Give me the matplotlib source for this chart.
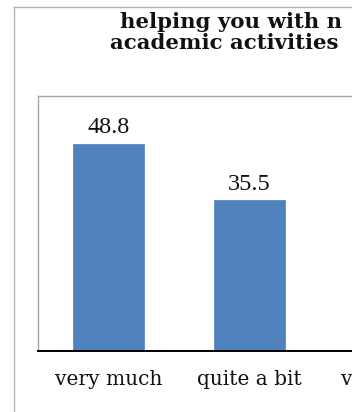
import matplotlib.pyplot as plt
from matplotlib.lines import Line2D

# survey answers and the share (%) of respondents for each
categories = ["very much", "quite a bit", "very little"]
values = [48.8, 35.5]
title_lines = ["helping you with n", "academic activities"]

W, H, DPI = 352, 412, 100
BAR_COLOR = "#4F81BD"
FRAME_GREY = "#B4B4B4"


def px(x, y):
    # pixel position (from top-left) to figure fraction
    return x / W, 1 - y / H


fig = plt.figure(figsize=(W / DPI, H / DPI), dpi=DPI)
fig.patch.set_facecolor("white")

# outer chart frame: only the left and top edges fall inside the figure
fig.add_artist(Line2D([14 / W, 14 / W], [0, 1 - 7 / H], transform=fig.transFigure,
                      color=FRAME_GREY, lw=1.0))
fig.add_artist(Line2D([14 / W, 1], [1 - 7 / H, 1 - 7 / H], transform=fig.transFigure,
                      color=FRAME_GREY, lw=1.0))

# title, two lines in bold serif
fig.text(*px(120, 28.5), title_lines[0], ha="left", va="baseline",
         fontsize=15.3, fontweight="bold", family="DejaVu Serif", color="#111111")
fig.text(*px(110, 49), title_lines[1], ha="left", va="baseline",
         fontsize=15.3, fontweight="bold", family="DejaVu Serif", color="#111111")

# plot area: one category step is 141 px wide
left, top, bottom = 38, 96, 351
step = 141
n = len(categories)
ax = fig.add_axes([left / W, 1 - bottom / H, n * step / W, (bottom - top) / H])
ax.set_xlim(-0.5, n - 0.5)
ax.set_ylim(0, 60)

xs = list(range(len(values)))
bars = ax.bar(xs, values, width=0.5, color=BAR_COLOR, edgecolor="#5B8BC4", linewidth=0.6)
for x, v in zip(xs, values):
    ax.annotate(f"{v:.1f}", (x, v), xytext=(0, 4), textcoords="offset points",
                ha="center", va="bottom", fontsize=17.5, family="Liberation Serif",
                color="#111111")

ax.set_xticks(range(n))
ax.set_xticklabels(categories, fontsize=14.5, family="DejaVu Serif", color="#111111")
ax.tick_params(axis="x", length=0, pad=14)
ax.set_yticks([])

for side in ("left", "top", "right"):
    ax.spines[side].set_color("#A6A6A6")
    ax.spines[side].set_linewidth(1.0)
ax.spines["bottom"].set_color("black")
ax.spines["bottom"].set_linewidth(1.4)

fig.savefig("out.png", dpi=DPI)
